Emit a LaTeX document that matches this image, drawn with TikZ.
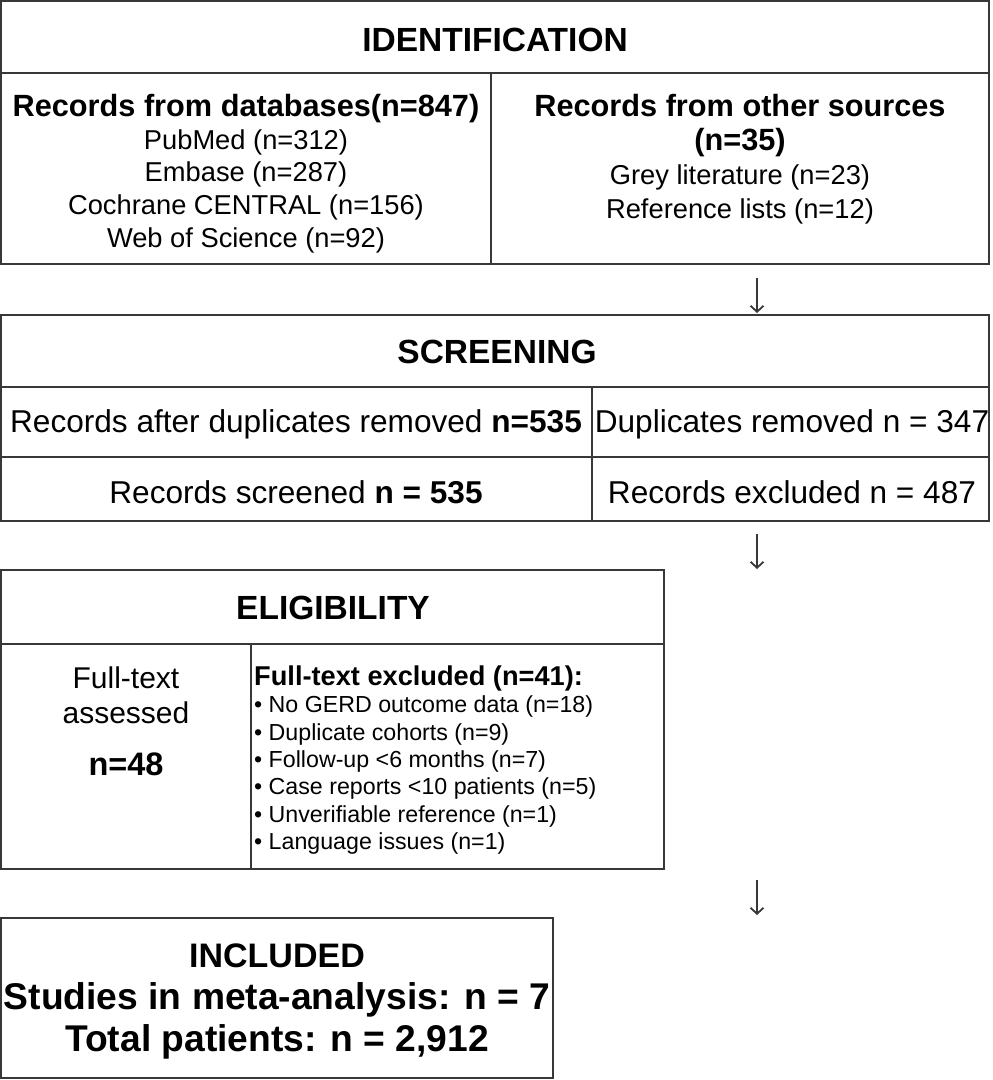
\documentclass[tikz,border=0pt]{standalone}
\usepackage{fontspec}
\setmainfont{Liberation Sans}
\usetikzlibrary{arrows.meta, positioning}
\colorlet{framegray}{black!78}

\newcommand{\fsz}[2]{\fontsize{#1}{#2}\selectfont}

\begin{document}
\begin{tikzpicture}[x=1pt, y=-1pt,
    every node/.style={inner sep=0pt, text=black},
    frame/.style={draw=framegray, line width=2pt},
    hd/.style={font=\bfseries\fsz{33.5}{40}},
    cellreg/.style={font=\fsz{31.6}{38}},
    arr/.style={draw=framegray, line width=1.8pt, -{Straight Barb[length=6pt, width=13pt, line width=1.8pt]}}]
  \useasboundingbox (0,0) rectangle (993,1080);

  % identification
  \draw[frame] (1,1) rectangle (989,264);
  \draw[frame] (1,73) -- (989,73) (491,73) -- (491,264);
  \node[hd] (idhead) at (495,40) {IDENTIFICATION};
  \node[align=center, font=\fsz{27.3}{32.8}] (iddb) at (246,173.5) {%
    {\bfseries\fsz{30.7}{32.8}Records from databases(n=847)}\\
    PubMed (n=312)\\
    Embase (n=287)\\
    Cochrane CENTRAL (n=156)\\
    Web of Science (n=92)};
  \node[align=center, font=\fsz{27.3}{34}] (idother) at (740,159.5) {%
    {\bfseries\fsz{30.7}{34}Records from other sources}\\
    {\bfseries\fsz{30.7}{34}(n=35)}\\
    Grey literature (n=23)\\
    Reference lists (n=12)};

  % screening
  \draw[frame] (1,315) rectangle (989,521);
  \draw[frame] (1,387) -- (989,387) (1,457) -- (989,457) (592,387) -- (592,521);
  \node[hd] (scrhead) at (497,352) {SCREENING};
  \node[cellreg] (scrdedup) at (296,424) {Records after duplicates removed \textbf{n=535}};
  \node[cellreg] (scrdup) at (792,424) {Duplicates removed n = 347};
  \node[cellreg] (scrscreened) at (296,492) {Records screened \textbf{n = 535}};
  \node[cellreg] (screxcl) at (792,492) {Records excluded n = 487};

  % eligibility
  \draw[frame] (1,570) rectangle (664,869);
  \draw[frame] (1,644) -- (664,644) (251,644) -- (251,869);
  \node[hd] (elhead) at (333,608) {ELIGIBILITY};
  \node[align=center, font=\fsz{30}{35}] (elassessed) at (126,695) {Full-text\\assessed};
  \node[font=\bfseries\fsz{32.5}{38}] (eln) at (126,764) {n=48};
  \node[align=left, anchor=west, font=\fsz{23.2}{27.3}] (elexcl) at (254,760) {%
    {\bfseries\fsz{27.2}{27.3}Full-text excluded (n=41):}\\
    • No GERD outcome data (n=18)\\
    • Duplicate cohorts (n=9)\\
    • Follow-up <6 months (n=7)\\
    • Case reports <10 patients (n=5)\\
    • Unverifiable reference (n=1)\\
    • Language issues (n=1)};

  % included
  \draw[frame] (1,918) rectangle (553,1078);
  \node[align=center, font=\bfseries\fsz{37.2}{42}] (inc) at (277,1001.5) {%
    {\fsz{34}{42}INCLUDED}\\
    Studies in meta-analysis: n = 7\\
    Total patients: n = 2,912};

  % arrows between stages
  \coordinate (aonetop) at (757,278);
  \coordinate (aonebot) at (757,313);
  \coordinate (atwotop) at (757,534);
  \coordinate (atwobot) at (757,569);
  \coordinate (athreetop) at (757,880);
  \coordinate (athreebot) at (757,915);
  \draw[arr] (aonetop) -- (aonebot);
  \draw[arr] (atwotop) -- (atwobot);
  \draw[arr] (athreetop) -- (athreebot);
\end{tikzpicture}
\end{document}
